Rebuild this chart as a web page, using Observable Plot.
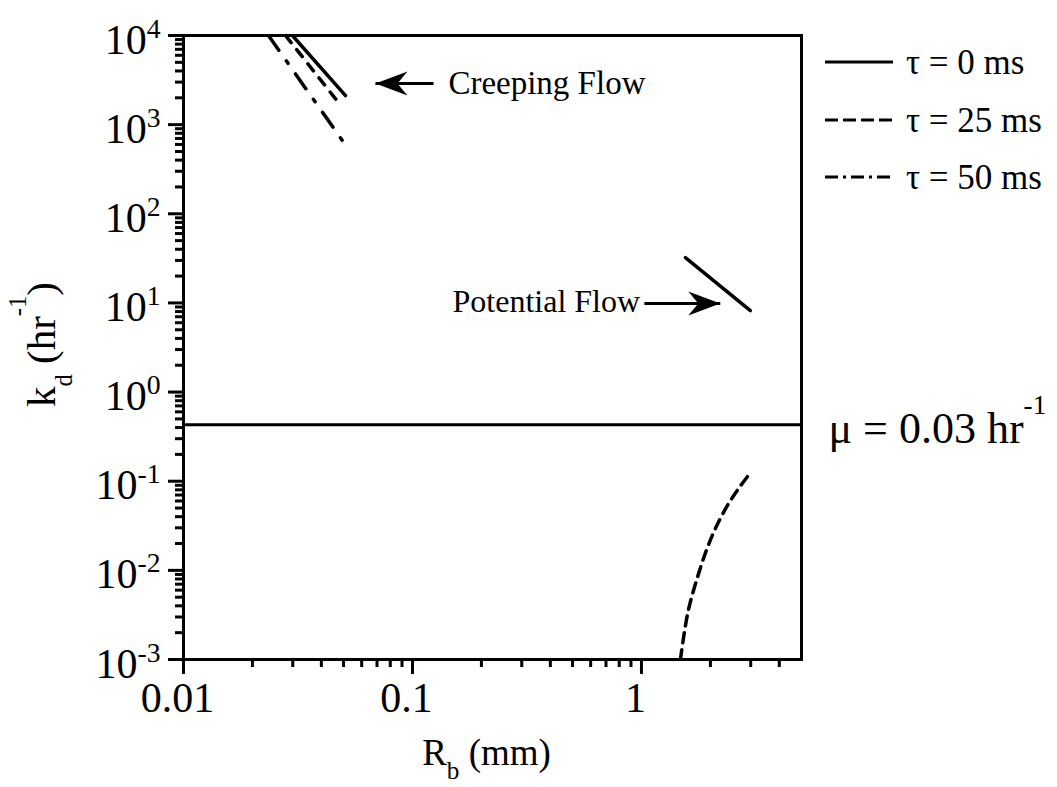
<!DOCTYPE html>
<html><head><meta charset="utf-8">
<script src="https://cdn.jsdelivr.net/npm/d3@7"></script>
<script src="https://cdn.jsdelivr.net/npm/@observablehq/plot@0.6"></script>
<style>
body{margin:0;background:#fff;}
#wrap{position:relative;width:1057px;height:787px;font-family:"Liberation Serif","Times New Roman",serif;}
#legend{position:absolute;left:0;top:0;pointer-events:none;}
</style></head><body><div id="wrap"></div>
<script>
// ---- data ----
const xMajor = [0.01, 0.1, 1];
const xTickLabels = ["0.01", "0.1", "1"];
const yMajor = [1e-3, 1e-2, 1e-1, 1e0, 1e1, 1e2, 1e3, 1e4];
const yTickLabels = ["10^{-3}", "10^{-2}", "10^{-1}", "10^{0}", "10^{1}", "10^{2}", "10^{3}", "10^{4}"];
const xMinor = [0.02,0.03,0.04,0.05,0.06,0.07,0.08,0.09,0.2,0.3,0.4,0.5,0.6,0.7,0.8,0.9,2,3,4];
const yMinor = [];
[-3,-2,-1,0,1,2,3].forEach(k => [2,3,4,5,6,7,8,9].forEach(m => yMinor.push(m * Math.pow(10, k))));

// creeping flow curves
const creepTau0  = [{x: 0.0299, y: 10000}, {x: 0.0510, y: 2120}];
const creepTau25 = [{x: 0.0279, y: 10000}, {x: 0.0475, y: 1770}];
const creepTau50 = [{x: 0.0235, y: 10000}, {x: 0.0494, y: 664}];
// potential flow line
const potentialTau0 = [{x: 1.556, y: 32.2}, {x: 2.99, y: 8.2}];
// lower dashed curve
const lowerTau25 = [
  {x: 1.48, y: 0.0010}, {x: 1.60, y: 0.0035}, {x: 1.81, y: 0.0107}, {x: 1.94, y: 0.0179},
  {x: 2.11, y: 0.0300}, {x: 2.40, y: 0.0560}, {x: 2.71, y: 0.0890}, {x: 2.99, y: 0.124}
];
const muLevel = 0.43;
const muLabel = "μ = 0.03 hr^{-1}";
const xLabel = "R_{b} (mm)";
const yLabel = "k_{d} (hr^{-1})";
const annotations = [
  {label: "Creeping Flow", x: 0.1435, y: 2234, size: 33},
  {label: "Potential Flow", x: 0.1496, y: 7.98, size: 32}
];
const arrows = [
  {x1: 0.1236, x2: 0.0689, y: 2894, rot: 180},
  {x1: 1.03, x2: 2.21, y: 9.85, rot: 0}
];
const legendItems = [
  {label: "τ = 0 ms", dash: null},
  {label: "τ = 25 ms", dash: "13,5"},
  {label: "τ = 50 ms", dash: "13,5,3,5"}
];

// stealth arrowhead symbol, tip at origin pointing +x
const arrowHead = {draw(ctx) { ctx.moveTo(0,0); ctx.lineTo(-32,-12); ctx.lineTo(-22,0); ctx.lineTo(-32,12); ctx.closePath(); }};

const chart = Plot.plot({
  width: 1057, height: 787,
  marginLeft: 183, marginRight: 256, marginTop: 35, marginBottom: 128,
  style: {fontFamily: '"Liberation Serif","Times New Roman",serif', fontSize: "42px", color: "black", background: "white", overflow: "visible"},
  x: {type: "log", domain: [0.01, 5]},
  y: {type: "log", domain: [1e-3, 1e4]},
  marks: [
    Plot.axisX({ticks: xMinor, tickSize: 8, tickFormat: () => "", strokeWidth: 3, label: null}),
    Plot.axisY({ticks: yMinor, tickSize: 8, tickFormat: () => "", strokeWidth: 3, label: null}),
    Plot.axisX({ticks: xMajor, tickSize: 15, tickPadding: 8, strokeWidth: 3, fontSize: 42, label: null,
      tickFormat: d => xTickLabels[xMajor.indexOf(d)]}),
    Plot.axisY({ticks: yMajor, tickSize: 15, tickPadding: 8, strokeWidth: 3, fontSize: 42, label: null,
      tickFormat: d => yTickLabels[yMajor.indexOf(d)]}),
    Plot.ruleY([muLevel], {strokeWidth: 3}),
    Plot.line(creepTau0, {x: "x", y: "y", strokeWidth: 3.5, clip: true}),
    Plot.line(creepTau25, {x: "x", y: "y", strokeWidth: 3.5, strokeDasharray: "9,9", clip: true}),
    Plot.line(creepTau50, {x: "x", y: "y", strokeWidth: 3.5, strokeDasharray: "18,13,3,13", clip: true}),
    Plot.line(potentialTau0, {x: "x", y: "y", strokeWidth: 3.5, clip: true}),
    Plot.line(lowerTau25, {x: "x", y: "y", strokeWidth: 3.5, strokeDasharray: "10,7", curve: "catmull-rom", clip: true}),
    Plot.link(arrows, {x1: "x1", x2: "x2", y1: "y", y2: "y", strokeWidth: 3}),
    Plot.dot(arrows, {x: "x2", y: "y", symbol: arrowHead, rotate: "rot", fill: "black", stroke: "none"}),
    Plot.text(annotations.slice(0, 1), {x: "x", y: "y", text: "label", textAnchor: "start", lineAnchor: "bottom", fontSize: 33}),
    Plot.text(annotations.slice(1), {x: "x", y: "y", text: "label", textAnchor: "start", lineAnchor: "bottom", fontSize: 32}),
    Plot.text([muLabel], {y: muLevel, text: d => d, frameAnchor: "right", textAnchor: "start", lineAnchor: "bottom", dx: 27, dy: 18, fontSize: 44}),
    Plot.text([xLabel], {text: d => d, frameAnchor: "bottom", textAnchor: "middle", lineAnchor: "bottom", dy: 105, dx: -6, fontSize: 37}),
    Plot.text([yLabel], {text: d => d, frameAnchor: "left", textAnchor: "middle", lineAnchor: "bottom", rotate: -90, dx: -129, dy: -3, fontSize: 41}),
    Plot.frame({strokeWidth: 3})
  ]
});

const wrap = document.getElementById("wrap");
wrap.appendChild(chart);

// rich text: ^{..} superscript, _{..} subscript
function richify(el, supRaise, subDrop, scale) {
  const s = el.textContent;
  if (!/[\^_]\{/.test(s)) return;
  const fs = parseFloat(getComputedStyle(el).fontSize);
  while (el.firstChild) el.removeChild(el.firstChild);
  const NS = "http://www.w3.org/2000/svg";
  const add = (txt, small, dy) => {
    const t = document.createElementNS(NS, "tspan");
    t.textContent = txt;
    if (small) t.setAttribute("font-size", (scale * fs).toFixed(1));
    if (dy) t.setAttribute("dy", dy.toFixed(1));
    el.appendChild(t);
  };
  const re = /([\^_])\{([^}]*)\}/g;
  let last = 0, m, shift = 0;
  while ((m = re.exec(s))) {
    if (m.index > last) { add(s.slice(last, m.index), false, -shift); shift = 0; }
    const off = m[1] === "^" ? -supRaise * fs : subDrop * fs;
    add(m[2], true, off - shift); shift = off;
    last = re.lastIndex;
  }
  if (last < s.length) add(s.slice(last), false, -shift);
}
const svg = d3.select(chart);
svg.selectAll('g[aria-label="y-axis tick label"] text').each(function() {
  this.setAttribute("y", "0.43em");
  richify(this, 0.38, 0.3, 0.66);
});
svg.selectAll('g[aria-label="x-axis tick label"] text').each(function() {
  this.setAttribute("dx", "-6");
});
svg.selectAll('g[aria-label="text"] text').each(function() {
  const s = this.textContent;
  if (s.startsWith("μ")) richify(this, 0.66, 0.3, 0.62);
  else if (s.startsWith("k")) richify(this, 0.7, 0.42, 0.6);
  else richify(this, 0.5, 0.4, 0.68);
});

// legend overlay
const lg = d3.select(wrap).append("svg").attr("id", "legend").attr("width", 1057).attr("height", 787)
  .style("font-family", '"Liberation Serif","Times New Roman",serif');
const rowY = [62, 120, 177];
legendItems.forEach((d, i) => {
  lg.append("line").attr("x1", 825).attr("x2", 893).attr("y1", rowY[i]).attr("y2", rowY[i])
    .attr("stroke", "black").attr("stroke-width", 3).attr("stroke-dasharray", d.dash);
  lg.append("text").attr("x", 906).attr("y", rowY[i] + 12).attr("font-size", 35).text(d.label);
});
</script></body></html>
